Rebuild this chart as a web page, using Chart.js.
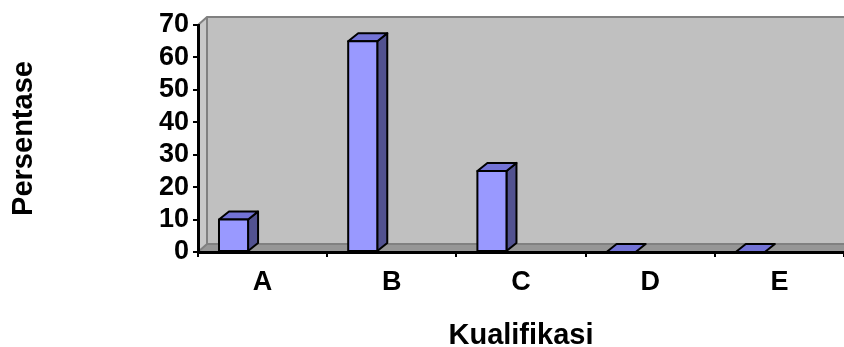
<!DOCTYPE html>
<html>
<head>
<meta charset="utf-8">
<script src="https://cdn.jsdelivr.net/npm/chart.js@4/dist/chart.umd.min.js"></script>
<style>
  body { margin: 0; background: #fff; }
</style>
</head>
<body>
<canvas id="chart" width="844" height="347"></canvas>
<script>
var categories = ["A", "B", "C", "D", "E"];
var persentase = [10, 65, 25, 0, 0];
var yTicks = [0, 10, 20, 30, 40, 50, 60, 70];

// depth of the fake 3D walls and columns
var WALL_DX = 9, WALL_DY = 8;
var BAR_DX = 10, BAR_DY = 8;

var walls3d = {
  id: 'walls3d',
  beforeDraw: function (chart) {
    var c = chart.ctx, a = chart.chartArea;
    var l = a.left, r = a.right, t = a.top, b = a.bottom;
    c.save();
    // back wall
    c.fillStyle = '#C0C0C0';
    c.fillRect(l + WALL_DX, t - WALL_DY, r - l, b - t);
    // left side wall
    c.beginPath();
    c.moveTo(l, t); c.lineTo(l + WALL_DX, t - WALL_DY);
    c.lineTo(l + WALL_DX, b - WALL_DY); c.lineTo(l, b);
    c.closePath();
    c.fillStyle = '#C8C8C8';
    c.fill();
    // floor
    c.beginPath();
    c.moveTo(l, b); c.lineTo(l + WALL_DX, b - WALL_DY);
    c.lineTo(r + WALL_DX, b - WALL_DY); c.lineTo(r, b);
    c.closePath();
    c.fillStyle = '#969696';
    c.fill();
    // wall edges
    c.strokeStyle = '#808080';
    c.lineWidth = 2;
    c.beginPath();
    c.moveTo(l, t); c.lineTo(l + WALL_DX, t - WALL_DY); c.lineTo(r + WALL_DX, t - WALL_DY);
    c.moveTo(l + WALL_DX, t - WALL_DY); c.lineTo(l + WALL_DX, b - WALL_DY);
    c.lineTo(r + WALL_DX, b - WALL_DY);
    c.moveTo(l, b); c.lineTo(l + WALL_DX, b - WALL_DY);
    c.stroke();
    c.restore();
  }
};

var columns3d = {
  id: 'columns3d',
  afterDatasetsDraw: function (chart) {
    var c = chart.ctx;
    var meta = chart.getDatasetMeta(0);
    c.save();
    c.lineWidth = 2;
    c.lineJoin = 'round';
    c.strokeStyle = '#000';
    meta.data.forEach(function (bar) {
      var w = bar.width;
      var x0 = bar.x - w * 1.5, x1 = x0 + w;
      var top = bar.y, base = bar.base;
      // side face
      if (base - top > 0.5) {
        c.beginPath();
        c.moveTo(x1, base); c.lineTo(x1, top);
        c.lineTo(x1 + BAR_DX, top - BAR_DY); c.lineTo(x1 + BAR_DX, base - BAR_DY);
        c.closePath();
        c.fillStyle = '#525290';
        c.fill(); c.stroke();
      }
      // top face
      c.beginPath();
      c.moveTo(x0, top); c.lineTo(x0 + BAR_DX, top - BAR_DY);
      c.lineTo(x1 + BAR_DX, top - BAR_DY); c.lineTo(x1, top);
      c.closePath();
      c.fillStyle = '#7373D6';
      c.fill(); c.stroke();
      // front face
      if (base - top > 0.5) {
        c.fillStyle = '#9999FF';
        c.fillRect(x0, top, w, base - top);
        c.strokeRect(x0, top, w, base - top);
      }
    });
    c.restore();
  }
};

var boldFont = { family: "'Liberation Sans', Arial, sans-serif", weight: 'bold' };

new Chart(document.getElementById('chart'), {
  type: 'bar',
  data: {
    labels: categories,
    datasets: [{
      data: persentase,
      backgroundColor: 'rgba(0,0,0,0)',
      borderWidth: 0,
      barPercentage: 0.225,
      categoryPercentage: 1
    }]
  },
  options: {
    responsive: false,
    animation: false,
    events: [],
    layout: { padding: { top: 25, right: 0, left: 0, bottom: 0 } },
    plugins: { legend: { display: false }, tooltip: { enabled: false } },
    scales: {
      x: {
        afterFit: function (s) { s.height = 95; },
        grid: { drawOnChartArea: false, color: '#000', lineWidth: 2, tickLength: 5 },
        border: { color: '#000', width: 3 },
        ticks: { color: '#000', padding: 9, font: Object.assign({ size: 27 }, boldFont) },
        title: {
          display: true, text: 'Kualifikasi', color: '#000',
          padding: { top: 0, bottom: 0 },
          font: Object.assign({ size: 29, lineHeight: 0.75 }, boldFont)
        }
      },
      y: {
        min: 0, max: 70,
        afterFit: function (s) { s.width = 198; },
        afterBuildTicks: function (s) { s.ticks = yTicks.map(function (v) { return { value: v }; }); },
        grid: { drawOnChartArea: false, color: '#000', lineWidth: 2, tickLength: 5 },
        border: { color: '#000', width: 3 },
        ticks: { color: '#000', padding: 4, autoSkip: false, font: Object.assign({ size: 27 }, boldFont) },
        title: {
          display: true, text: 'Persentase', color: '#000',
          padding: { top: 9, bottom: 0 },
          font: Object.assign({ size: 29, lineHeight: 1 }, boldFont)
        }
      }
    }
  },
  plugins: [walls3d, columns3d]
});
</script>
</body>
</html>
